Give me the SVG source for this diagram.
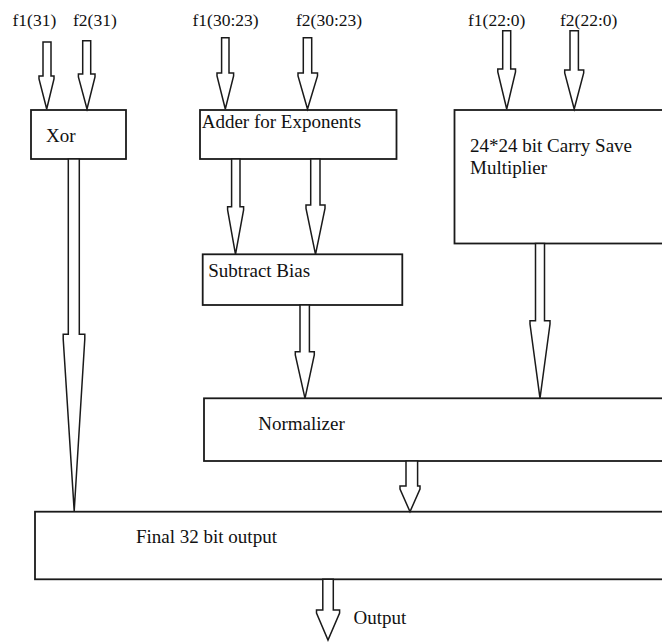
<svg xmlns="http://www.w3.org/2000/svg" width="662" height="642" viewBox="0 0 662 642">
  <style>
    .box { fill: #ffffff; stroke: #1a1a1a; stroke-width: 1.8; }
    .arrow { fill: #ffffff; stroke: #1a1a1a; stroke-width: 1.5; stroke-linejoin: miter; }
    .label { font-family: "Liberation Serif", "Times New Roman", serif; font-size: 19px; fill: #111111; }
    .sig { font-size: 17.5px; }
  </style>
  <rect x="0" y="0" width="662" height="642" fill="#ffffff"/>

  <!-- input signal labels -->
  <g id="inputs">
    <text class="label sig" x="12.5" y="26">f1(31)</text>
    <text class="label sig" x="73" y="26">f2(31)</text>
    <text class="label sig" x="192.5" y="26">f1(30:23)</text>
    <text class="label sig" x="296" y="26">f2(30:23)</text>
    <text class="label sig" x="468" y="26">f1(22:0)</text>
    <text class="label sig" x="560" y="26">f2(22:0)</text>
  </g>

  <g id="xor">
    <rect class="box" x="31" y="110" width="95" height="49"/>
    <text class="label" x="46" y="141.7">Xor</text>
  </g>

  <g id="adder">
    <rect class="box" x="200" y="110" width="196.5" height="49"/>
    <text class="label" x="201.7" y="128.3">Adder for Exponents</text>
  </g>

  <g id="multiplier">
    <rect class="box" x="454.5" y="110" width="220" height="133.5"/>
    <text class="label" x="470" y="151.7">24*24 bit Carry Save</text>
    <text class="label" x="470" y="174">Multiplier</text>
  </g>

  <g id="subtract-bias">
    <rect class="box" x="202.7" y="254.3" width="199.6" height="50.7"/>
    <text class="label" x="208.3" y="276.7">Subtract Bias</text>
  </g>

  <g id="normalizer">
    <rect class="box" x="204" y="398.3" width="470" height="62.7"/>
    <text class="label" x="258.3" y="430">Normalizer</text>
  </g>

  <g id="final-output">
    <rect class="box" x="35" y="511.7" width="640" height="67.6"/>
    <text class="label" x="136" y="543.3">Final 32 bit output</text>
  </g>

  <g id="output-label">
    <text class="label" x="353.6" y="624">Output</text>
  </g>

  <!-- hollow block arrows: shaft, small shoulders, tapered head -->
  <g id="connectors">
    <!-- f1(31) -> Xor -->
    <polygon class="arrow" points="43,42 43,76 39,76 39,79 46.7,109 54,79 54,76 51,76 51,42"/>
    <!-- f2(31) -> Xor -->
    <polygon class="arrow" points="82.7,40.7 82.7,74 78.4,74 78.4,77 87,109 95,77 95,74 90.7,74 90.7,40.7"/>
    <!-- f1(30:23) -> Adder -->
    <polygon class="arrow" points="221.6,37.7 221.6,73 217,73 217,76 225.3,109 233.6,76 233.6,73 229,73 229,37.7"/>
    <!-- f2(30:23) -> Adder -->
    <polygon class="arrow" points="303.3,37.7 303.3,73 298,73 298,76 307.5,109 317.5,76 317.5,73 311.7,73 311.7,37.7"/>
    <!-- f1(22:0) -> Multiplier -->
    <polygon class="arrow" points="502.7,30.7 502.7,69 497.8,69 497.8,72 506.7,109 515.5,72 515.5,69 510.7,69 510.7,30.7"/>
    <!-- f2(22:0) -> Multiplier -->
    <polygon class="arrow" points="570,30.7 570,70 564.7,70 564.7,73 574.2,109 583.7,73 583.7,70 578.4,70 578.4,30.7"/>
    <!-- Xor -> Final -->
    <polygon class="arrow" points="68.3,159 68.3,334.3 63.2,334.3 63.2,339 74.2,511 84.8,339 84.8,334.3 79.3,334.3 79.3,159"/>
    <!-- Adder -> Subtract Bias (left) -->
    <polygon class="arrow" points="231.6,159 231.6,206.7 227.6,206.7 227.6,210 235.5,254.3 243.6,210 243.6,206.7 240,206.7 240,159"/>
    <!-- Adder -> Subtract Bias (right) -->
    <polygon class="arrow" points="310.7,159 310.7,205 306,205 306,208.5 315.5,254.3 325,208.5 325,205 320,205 320,159"/>
    <!-- Subtract Bias -> Normalizer -->
    <polygon class="arrow" points="300,305 300,351.7 295.3,351.7 295.3,355 305,398.3 314.3,355 314.3,351.7 309.4,351.7 309.4,305"/>
    <!-- Multiplier -> Normalizer -->
    <polygon class="arrow" points="535.5,243.5 535.5,320.7 530,320.7 530,324 540,398.3 550,324 550,320.7 544.5,320.7 544.5,243.5"/>
    <!-- Normalizer -> Final -->
    <polygon class="arrow" points="406,461 406,486 400,486 400,489 410,511.7 420,489 420,486 417.6,486 417.6,461"/>
    <!-- Final -> Output -->
    <polygon class="arrow" points="322.8,579.3 322.8,610 316.5,610 316.5,613 328,640 339.6,613 339.6,610 333.3,610 333.3,579.3"/>
  </g>
</svg>
